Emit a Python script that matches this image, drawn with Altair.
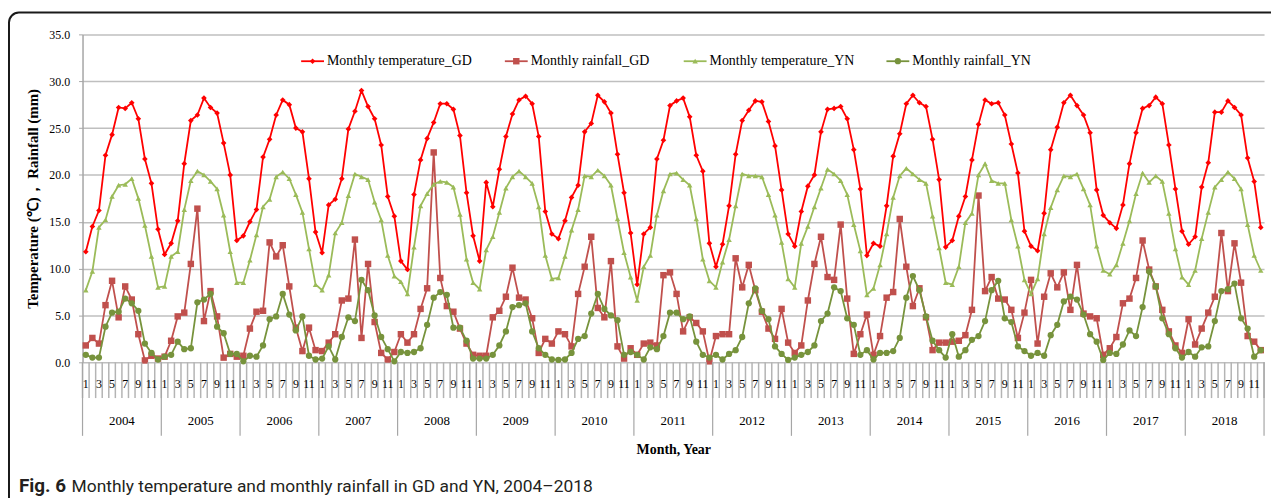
import altair as alt
import pandas as pd

years = list(range(2004, 2019))
odd_months = [1, 3, 5, 7, 9, 11]

gd_temp = [
    11.8, 14.5, 16.2, 22.1, 24.3, 27.2, 27.1, 27.7, 26.0, 21.7, 19.1, 14.2,
    11.5, 12.7, 15.1, 21.2, 25.8, 26.4, 28.2, 27.2, 26.6, 23.4, 20.0, 13.0,
    13.5, 15.0, 16.3, 21.9, 23.8, 26.4, 28.0, 27.5, 25.0, 24.6, 19.6, 13.9,
    11.7, 16.8, 17.4, 19.6, 24.9, 26.8, 29.0, 27.3, 26.0, 23.2, 17.7, 15.6,
    10.8, 9.9, 17.9, 21.6, 23.9, 25.6, 27.6, 27.6, 27.0, 24.2, 18.1, 13.5,
    10.8, 19.2, 16.6, 20.6, 24.1, 26.5, 28.0, 28.4, 27.6, 24.1, 16.1, 13.7,
    13.2, 15.1, 17.6, 18.9, 24.6, 25.5, 28.5, 27.8, 26.6, 22.2, 18.1, 13.8,
    8.3, 13.7, 14.4, 21.7, 23.7, 27.4, 27.9, 28.2, 26.2, 22.1, 20.4, 12.7,
    10.2, 12.6, 16.7, 22.2, 25.8, 26.9, 27.9, 27.8, 25.7, 23.1, 18.4, 13.7,
    12.4, 16.1, 18.8, 20.0, 24.6, 27.0, 27.1, 27.3, 26.0, 22.7, 18.5, 11.4,
    12.7, 12.4, 16.7, 22.0, 24.4, 27.6, 28.5, 27.7, 27.3, 23.8, 19.5, 12.3,
    13.0, 15.6, 17.7, 21.6, 25.4, 28.0, 27.6, 27.7, 26.4, 23.3, 20.2, 14.0,
    12.4, 11.9, 15.9, 22.7, 25.1, 27.7, 28.5, 27.4, 26.4, 24.5, 18.4, 15.7,
    14.9, 14.3, 16.8, 21.2, 24.5, 27.1, 27.4, 28.3, 27.6, 23.2, 18.5, 14.0,
    12.6, 13.4, 18.7, 21.3, 26.7, 26.7, 27.9, 27.2, 26.4, 21.8, 19.3, 14.4,
]

gd_rain = [
    1.8, 2.6, 2.0, 6.1, 8.7, 4.8, 8.1, 6.7, 3.0, 0.2, 0.7, 0.4,
    0.6, 2.3, 4.9, 5.3, 10.5, 16.4, 4.4, 7.6, 4.9, 0.5, 0.9, 0.6,
    0.7, 3.6, 5.4, 5.5, 12.8, 11.3, 12.5, 8.1, 3.7, 1.2, 3.7, 1.3,
    1.2, 2.1, 3.0, 6.6, 6.8, 13.1, 2.6, 10.5, 4.3, 1.0, 0.3, 1.1,
    3.0, 2.1, 3.0, 5.7, 7.9, 22.4, 9.0, 6.0, 5.4, 3.6, 2.0, 0.8,
    0.7, 0.7, 4.8, 5.5, 7.0, 10.1, 6.9, 6.7, 4.7, 1.0, 2.5, 2.0,
    3.3, 3.0, 1.7, 7.3, 10.2, 13.4, 5.8, 4.8, 10.8, 1.7, 0.4, 1.5,
    0.8, 2.0, 2.1, 1.8, 9.3, 9.6, 7.3, 3.3, 4.8, 4.2, 3.3, 0.1,
    2.8, 3.0, 3.0, 11.1, 8.0, 10.4, 7.7, 5.4, 3.6, 2.5, 5.7, 2.1,
    1.0, 1.8, 6.6, 10.5, 13.4, 9.1, 8.8, 14.7, 6.8, 0.9, 3.0, 5.1,
    0.8, 2.8, 6.9, 7.5, 15.3, 10.2, 6.0, 7.9, 4.8, 1.3, 2.1, 2.1,
    2.2, 2.3, 2.9, 5.6, 17.8, 7.6, 9.1, 6.8, 6.7, 5.6, 2.6, 5.3,
    8.8, 2.0, 7.0, 9.5, 8.0, 9.6, 5.6, 10.4, 5.2, 4.9, 4.7, 0.8,
    1.5, 2.7, 6.3, 6.8, 9.0, 13.0, 9.9, 8.1, 5.6, 3.3, 1.8, 1.0,
    4.6, 1.9, 3.6, 5.3, 7.0, 13.8, 7.6, 12.7, 8.5, 2.8, 2.2, 1.3,
]

yn_temp = [
    7.7, 9.7, 14.4, 15.2, 17.7, 18.9, 19.0, 19.6, 17.5, 14.6, 11.3, 8.0,
    8.1, 11.3, 11.8, 16.3, 19.4, 20.4, 20.0, 19.3, 18.5, 15.7, 11.8, 8.5,
    8.5, 10.9, 13.6, 16.6, 17.4, 19.8, 20.3, 19.6, 17.9, 16.0, 12.1, 8.3,
    7.7, 9.3, 13.8, 14.9, 17.8, 20.1, 19.8, 19.5, 17.1, 15.2, 11.4, 9.2,
    8.6, 7.3, 12.3, 16.7, 18.0, 19.0, 19.3, 19.2, 18.7, 15.8, 11.0, 8.5,
    7.8, 12.0, 13.4, 16.0, 18.6, 19.8, 20.4, 19.8, 19.1, 16.6, 11.4, 8.9,
    9.0, 11.3, 14.1, 16.3, 19.9, 19.8, 20.5, 19.9, 18.9, 15.3, 11.7, 9.1,
    6.6, 10.2, 11.4, 15.7, 18.3, 20.1, 20.2, 19.5, 18.9, 15.3, 11.0, 8.7,
    8.0, 10.7, 13.1, 16.7, 20.1, 19.9, 19.9, 19.8, 17.9, 15.7, 12.8, 8.9,
    8.0, 12.7, 14.5, 16.6, 18.6, 20.6, 20.1, 19.4, 17.9, 14.7, 11.9, 7.2,
    7.9, 10.4, 13.7, 17.6, 19.9, 20.7, 20.1, 19.5, 19.1, 15.6, 12.2, 8.5,
    8.3, 10.2, 14.9, 15.9, 20.0, 21.2, 19.4, 19.1, 19.1, 15.2, 12.4, 8.8,
    7.3, 8.9, 13.7, 16.5, 18.4, 19.9, 19.8, 20.1, 18.5, 16.8, 12.4, 9.8,
    9.4, 10.4, 12.7, 15.1, 18.0, 20.2, 19.2, 19.9, 19.3, 15.9, 12.1, 9.1,
    8.3, 9.8, 13.2, 16.0, 18.7, 19.5, 20.3, 19.6, 18.5, 14.7, 11.4, 9.8,
]

yn_rain = [
    0.8, 0.5, 0.5, 3.8, 5.3, 5.4, 6.8, 6.3, 5.5, 2.0, 1.0, 0.3,
    0.6, 0.8, 2.2, 1.4, 1.5, 6.4, 6.7, 7.3, 3.8, 3.1, 0.9, 0.9,
    0.1, 0.7, 0.6, 1.8, 4.6, 4.9, 7.3, 5.1, 3.4, 4.9, 0.7, 0.3,
    0.4, 1.7, 0.3, 2.7, 4.8, 4.4, 8.8, 7.7, 5.0, 2.7, 1.4, 0.1,
    1.1, 1.0, 1.1, 1.5, 4.0, 6.9, 7.5, 7.2, 3.7, 3.7, 2.3, 0.4,
    0.4, 0.4, 0.8, 1.8, 3.3, 5.9, 6.1, 6.3, 3.3, 1.5, 0.8, 0.3,
    0.25, 0.3, 1.0, 2.5, 2.8, 5.2, 7.3, 5.7, 5.0, 4.5, 0.8, 1.1,
    0.8, 0.3, 1.6, 1.4, 2.8, 5.3, 5.3, 4.6, 4.9, 2.2, 0.8, 0.5,
    0.8, 0.3, 0.9, 1.3, 2.7, 6.3, 7.9, 5.5, 4.6, 1.7, 0.9, 0.25,
    0.5, 0.8, 1.1, 1.8, 4.4, 5.2, 8.0, 7.6, 4.7, 4.0, 0.8, 1.3,
    0.3, 1.0, 1.0, 1.2, 2.6, 6.9, 9.2, 7.7, 4.9, 2.3, 1.3, 0.5,
    3.0, 0.6, 1.3, 2.4, 2.8, 4.4, 7.7, 8.7, 4.7, 4.3, 1.7, 1.2,
    0.7, 1.0, 0.7, 2.9, 4.0, 6.5, 7.0, 6.7, 5.1, 3.0, 2.2, 0.25,
    1.0, 0.9, 1.9, 3.4, 2.8, 5.9, 9.7, 8.1, 4.7, 3.0, 1.5, 0.5,
    1.1, 0.6, 1.6, 1.7, 4.4, 7.6, 7.8, 8.4, 4.7, 3.6, 0.6, 1.3,
]

series_names = [
    "Monthly temperature_GD",
    "Monthly rainfall_GD",
    "Monthly temperature_YN",
    "Monthly rainfall_YN",
]
series_values = [gd_temp, gd_rain, yn_temp, yn_rain]
y_ticks = [0, 5, 10, 15, 20, 25, 30, 35]

# ---- styles / layout ----
colors = ["#FF0000", "#C0504D", "#9BBB59", "#77933C"]
shapes = ["diamond", "square", "triangle-up", "circle"]
sizes = [32, 42, 30, 40]
W, H = 1189, 330
SERIF = "Liberation Serif"
n = len(years) * 12

xscale = alt.Scale(domain=[0, n], nice=False, zero=False)
yscale = alt.Scale(domain=[0, 35], nice=False, zero=True)

x_axis = alt.Axis(
    title="Month, Year", labels=False, ticks=False, domain=False, grid=False,
    titleFont=SERIF, titleFontSize=14, titleFontWeight="bold", titleColor="#000000",
    titlePadding=81,
)
y_axis = alt.Axis(
    values=y_ticks, format=".1f", grid=True, gridColor="#BFBFBF", gridWidth=1.5,
    domainColor="#A6A6A6", domainWidth=1.5, tickColor="#A6A6A6", tickSize=4,
    labelFont=SERIF, labelFontSize=12, labelColor="#000000", labelPadding=9,
    title="Temperature (℃)，  Rainfall (mm)", titleFont=SERIF, titleFontSize=15,
    titleFontWeight="bold", titleColor="#000000", titlePadding=8,
)

def X(field):
    return alt.X(field, type="quantitative", scale=xscale, axis=x_axis)

layers = []

one = pd.DataFrame({"k": [0]})

# frame of the figure
layers.append(
    alt.Chart(one).mark_rect(cornerRadius=10, fillOpacity=0, stroke="#1a1a1a", strokeWidth=2).encode(
        x=alt.value(-74), x2=alt.value(W + 60), y=alt.value(-22), y2=alt.value(H + 200)
    )
)

# series
for name, vals, col, shp, sz in zip(series_names, series_values, colors, shapes, sizes):
    d = pd.DataFrame({"x": [i + 0.5 for i in range(len(vals))], "value": vals})
    y_enc = alt.Y("value:Q", scale=yscale, axis=y_axis)
    layers.append(
        alt.Chart(d).mark_line(color=col, strokeWidth=1.8).encode(x=X("x"), y=y_enc)
    )
    layers.append(
        alt.Chart(d).mark_point(color=col, shape=shp, size=sz, filled=True, opacity=1).encode(x=X("x"), y=y_enc)
    )

# month tick lines
mt = pd.DataFrame({"b": list(range(n + 1))})
layers.append(
    alt.Chart(mt).mark_rule(color="#B4B4B4", strokeWidth=1.5).encode(
        x=X("b"), y=alt.value(H), y2=alt.value(H + 36)
    )
)
# year separators
yt = pd.DataFrame({"b": list(range(0, n + 1, 12))})
layers.append(
    alt.Chart(yt).mark_rule(color="#A6A6A6", strokeWidth=1.2).encode(
        x=X("b"), y=alt.value(H), y2=alt.value(H + 74)
    )
)
# month labels
ml = pd.DataFrame(
    [{"x": k * 12 + m - 0.5, "t": str(m)} for k in range(len(years)) for m in odd_months]
)
layers.append(
    alt.Chart(ml).mark_text(font=SERIF, fontSize=12, color="#000000", baseline="middle").encode(
        x=X("x"), y=alt.value(H + 22), text="t:N"
    )
)
# year labels
yl = pd.DataFrame([{"x": k * 12 + 6, "t": str(y)} for k, y in enumerate(years)])
layers.append(
    alt.Chart(yl).mark_text(font=SERIF, fontSize=13, color="#000000", baseline="middle").encode(
        x=X("x"), y=alt.value(H + 59), text="t:N"
    )
)

# legend (manual, line + marker + label)
leg_left = [220, 425, 605, 809]
for name, col, shp, sz, lx in zip(series_names, colors, shapes, sizes, leg_left):
    layers.append(
        alt.Chart(one).mark_rule(color=col, strokeWidth=1.8).encode(
            x=alt.value(lx), x2=alt.value(lx + 23), y=alt.value(27)
        )
    )
    layers.append(
        alt.Chart(one).mark_point(color=col, shape=shp, size=sz, filled=True, opacity=1).encode(
            x=alt.value(lx + 11.5), y=alt.value(27)
        )
    )
    layers.append(
        alt.Chart(one).mark_text(font=SERIF, fontSize=14, color="#000000", align="left", baseline="middle").encode(
            x=alt.value(lx + 26), y=alt.value(27), text=alt.value(name)
        )
    )

# caption
layers.append(
    alt.Chart(one).mark_text(font="Roboto", fontSize=19, fontWeight="bold", color="#231F20",
                             align="left", baseline="alphabetic").encode(
        x=alt.value(-64), y=alt.value(461), text=alt.value("Fig. 6")
    )
)
layers.append(
    alt.Chart(one).mark_text(font="Roboto", fontSize=17.5, color="#231F20",
                             align="left", baseline="alphabetic").encode(
        x=alt.value(-11), y=alt.value(461),
        text=alt.value("Monthly temperature and monthly rainfall in GD and YN, 2004–2018"),
    )
)

chart = alt.layer(*layers).properties(
    width=W, height=H,
    padding={"left": 75, "top": 25, "right": 7, "bottom": 135},
    autosize=alt.AutoSizeParams(type="none"),
    background="white",
).configure_view(stroke=None)

chart.save("out.html", embed_options={"renderer": "svg", "actions": False})
